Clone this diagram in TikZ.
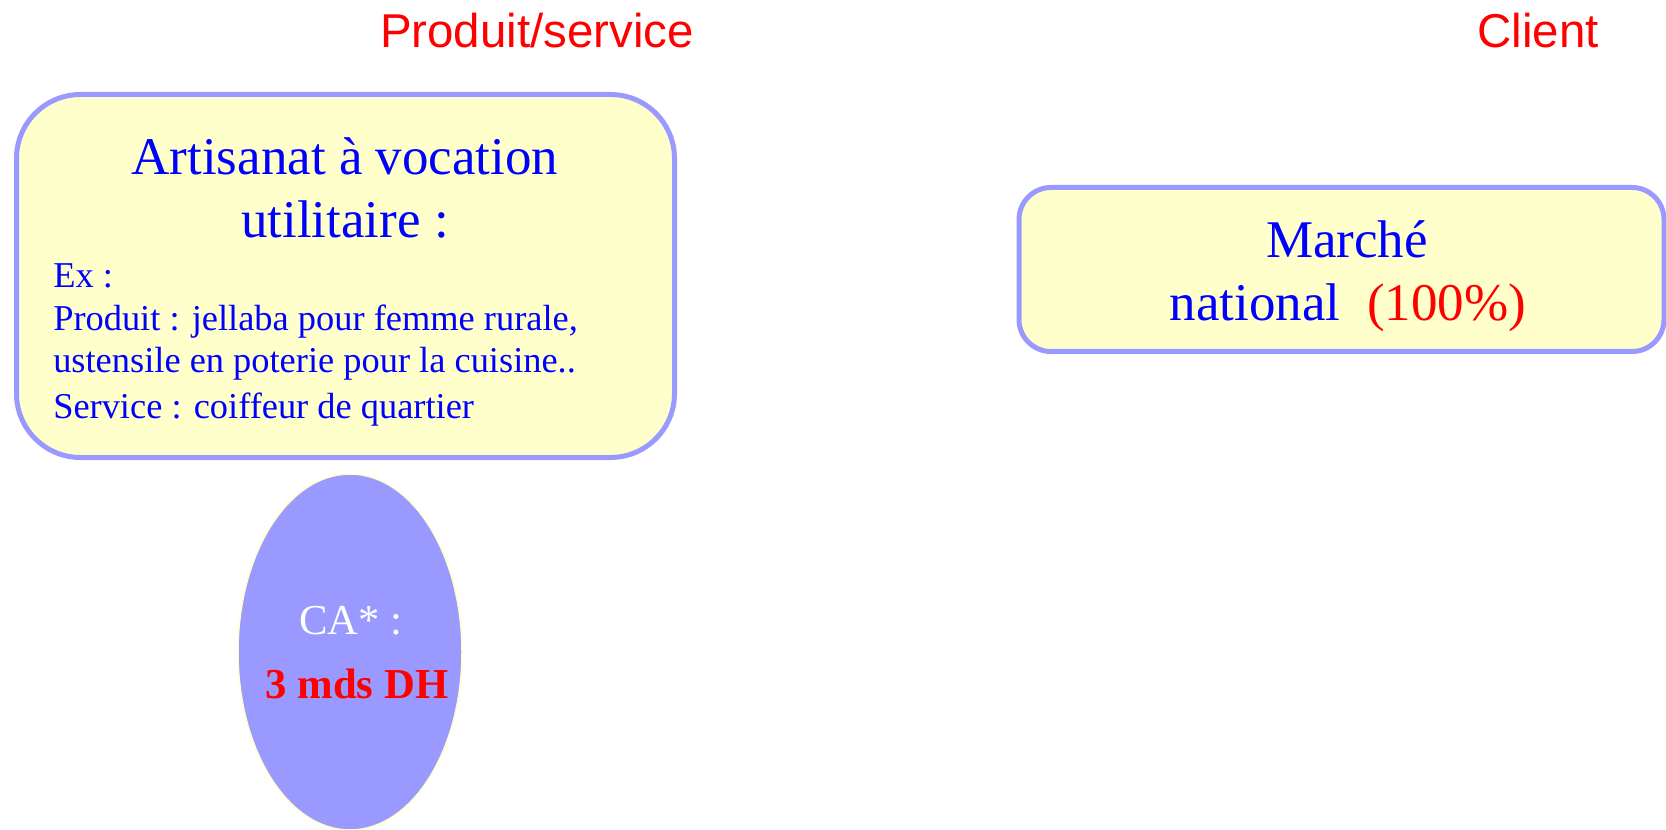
\documentclass[tikz,border=0pt]{standalone}
\usepackage{fontspec}
\setmainfont{Liberation Serif}
\setsansfont{Liberation Sans}
\usetikzlibrary{shapes.geometric,positioning}
\definecolor{Lav}{HTML}{9999FF}
\definecolor{Cream}{HTML}{FFFFCC}
\definecolor{Ink}{HTML}{0000FF}
\definecolor{Alert}{HTML}{FF0000}
\newlength\pxu
\setlength\pxu{0.75pt}
\tikzset{
 panel/.style={draw=Lav,fill=Cream,line width=5\pxu,inner sep=0pt},
 head/.style={text=Alert,font=\sffamily\fontsize{35.6}{40}\selectfont,anchor=base,inner sep=0pt},
 big/.style={text=Ink,font=\fontsize{39.75}{46}\selectfont,anchor=base,inner sep=0pt},
 small/.style={text=Ink,font=\fontsize{27.3}{32}\selectfont,anchor=base west,inner sep=0pt},
 bubble/.style={ellipse,draw=Cream,fill=Lav,line width=1.5\pxu,inner sep=0pt},
 ca/.style={font=\fontsize{32}{38}\selectfont,anchor=base,inner sep=0pt}
}

\begin{document}
\begin{tikzpicture}[x=0.75pt,y=-0.75pt]
\useasboundingbox (0,0) rectangle (1666,830);
% column headings
\node[head] (hprod) at (537,48) {Produit/service};
\node[head] (hcli) at (1538,48) {Client};
% product panel
\node[panel,rounded corners=64\pxu,minimum width=658\pxu,minimum height=363\pxu] (offre) at (345.5,276) {};
\node[big] (t1) at (345,175) {Artisanat à vocation};
\node[big] (t2) at (345,238) {utilitaire :};
\foreach \n/\y/\txt in {1/288/{Ex :},2/330/{Produit : jellaba pour femme rurale,},3/373/{ustensile en poterie pour la cuisine..},4/418/{Service : coiffeur de quartier}}
  \node[small] (ex\n) at (53,\y) {\txt};
% client panel
\node[panel,rounded corners=32\pxu,minimum width=645\pxu,minimum height=164\pxu] (marche) at (1341.5,269.5) {};
\node[big] (m1) at (1347,258) {Marché};
\node[big] (m2) at (1348,321) {national~~\textcolor{Alert}{(100\%)}};
% turnover bubble
\node[bubble,minimum width=224\pxu,minimum height=356\pxu] (ca) at (350,652) {};
\node[ca,text=white] (ca1) at (351,634) {CA* :};
\node[ca,text=Alert] (ca2) at (357,698) {\bfseries 3 mds DH};
\end{tikzpicture}
\end{document}
